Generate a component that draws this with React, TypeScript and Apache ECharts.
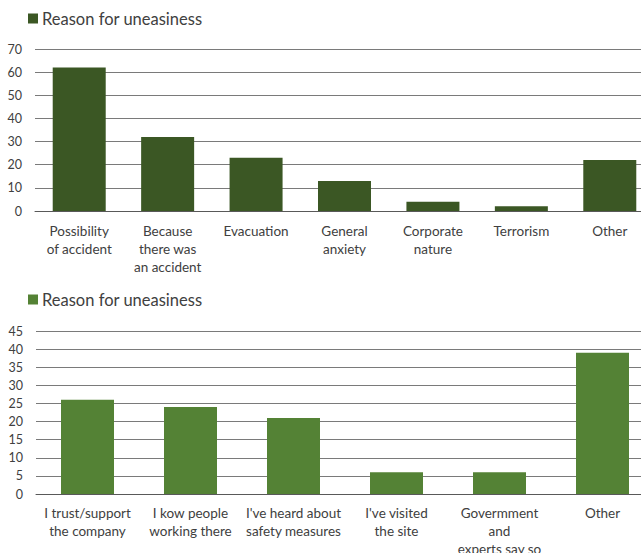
import React, { useEffect, useRef } from "react";
import * as echarts from "echarts";

const topCategories = [
  "Possibility\nof accident",
  "Because\nthere was\nan accident",
  "Evacuation",
  "General\nanxiety",
  "Corporate\nnature",
  "Terrorism",
  "Other",
];
const topValues = [62, 32, 23, 13, 4, 2, 22];

const bottomCategories = [
  "I trust/support\nthe company",
  "I kow people\nworking there",
  "I've heard about\nsafety measures",
  "I've visited\nthe site",
  "Govermment\nand\nexperts say so",
  "Other",
];
const bottomValues = [26, 24, 21, 6, 6, 39];

const seriesName = "Reason for uneasiness";
const FONT = "Lato, 'Open Sans', sans-serif";
const TEXT = "#404040";
const GRID = "#7a7a7a";
const TOP_COLOR = "#3b5724";
const BOTTOM_COLOR = "#548235";

export default function App() {
  const ref = useRef<HTMLDivElement>(null);
  useEffect(() => {
    if (!ref.current) return;
    const chart = echarts.init(ref.current, undefined, { renderer: "svg" });
    const yAxisCommon = {
      type: "value" as const,
      axisLine: { show: false },
      axisTick: { show: false },
      splitLine: { lineStyle: { color: GRID, width: 1 } },
      axisLabel: { color: TEXT, fontSize: 12.5, fontFamily: FONT, margin: 13 },
    };
    const xAxisCommon = {
      type: "category" as const,
      axisTick: { show: false },
      axisLine: { lineStyle: { color: "#595959", width: 1 } },
    };
    const legendCommon = {
      left: 28,
      padding: 0,
      itemWidth: 10,
      itemHeight: 10,
      itemGap: 4,
      icon: "rect",
      selectedMode: false,
      textStyle: { fontSize: 16.5, color: TEXT, fontFamily: FONT, padding: [0, 0, 0, -1] },
    };
    chart.setOption({
      animation: false,
      textStyle: { fontFamily: FONT },
      legend: [
        {
          ...legendCommon,
          top: 10,
          data: [{ name: seriesName, itemStyle: { color: TOP_COLOR } }],
        },
        {
          ...legendCommon,
          top: 291,
          data: [{ name: seriesName, itemStyle: { color: BOTTOM_COLOR } }],
        },
      ],
      grid: [
        { left: 35, top: 49, width: 619, height: 162, outerBoundsMode: "none" },
        { left: 36, top: 331, width: 618, height: 163, outerBoundsMode: "none" },
      ],
      xAxis: [
        {
          ...xAxisCommon,
          gridIndex: 0,
          data: topCategories,
          axisLabel: {
            interval: 0,
            color: TEXT,
            fontSize: 13.5,
            lineHeight: 18,
            fontFamily: FONT,
            margin: 11,
          },
        },
        {
          ...xAxisCommon,
          gridIndex: 1,
          data: bottomCategories,
          axisLabel: {
            interval: 0,
            color: TEXT,
            fontSize: 13.5,
            lineHeight: 18,
            fontFamily: FONT,
            margin: 10,
          },
        },
      ],
      yAxis: [
        { ...yAxisCommon, gridIndex: 0, min: 0, max: 70, interval: 10 },
        { ...yAxisCommon, gridIndex: 1, min: 0, max: 45, interval: 5 },
      ],
      series: [
        {
          name: seriesName,
          type: "bar",
          xAxisIndex: 0,
          yAxisIndex: 0,
          data: topValues,
          barWidth: 53,
          itemStyle: { color: TOP_COLOR },
        },
        {
          name: seriesName,
          type: "bar",
          xAxisIndex: 1,
          yAxisIndex: 1,
          data: bottomValues,
          barWidth: 53,
          itemStyle: { color: BOTTOM_COLOR },
        },
      ],
    });
    return () => chart.dispose();
  }, []);
  return (
    <div
      ref={ref}
      style={{ position: "fixed", left: 0, top: 0, width: 641, height: 553, background: "#fff" }}
    />
  );
}
